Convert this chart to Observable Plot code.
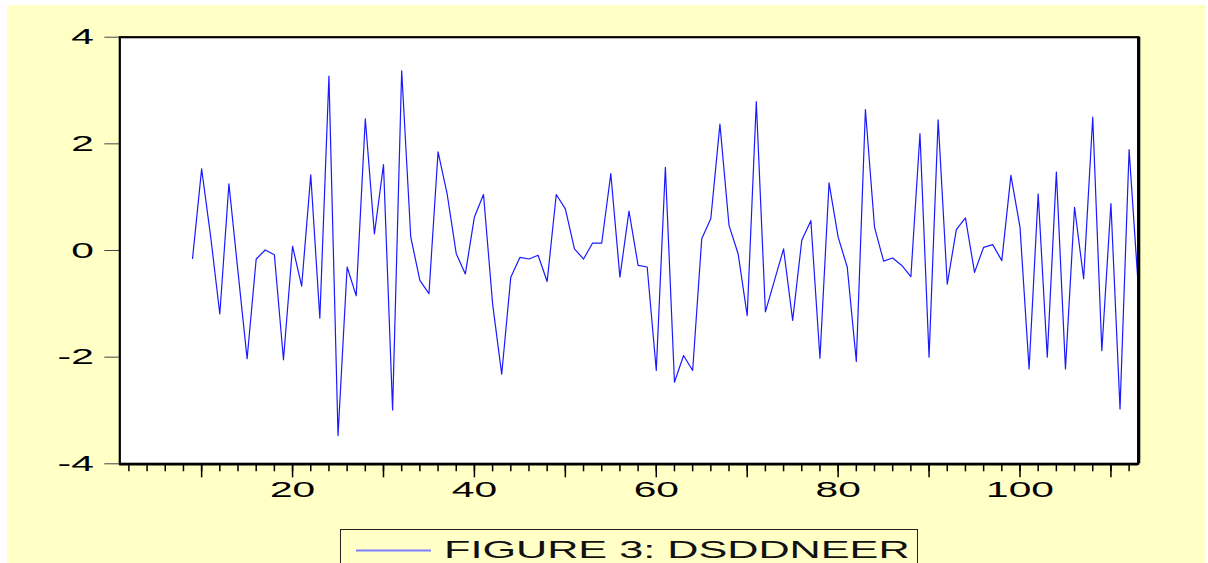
<!DOCTYPE html>
<html><head><meta charset="utf-8">
<script src="https://cdn.jsdelivr.net/npm/d3@7"></script>
<script src="https://cdn.jsdelivr.net/npm/@observablehq/plot@0.6"></script>
<style>
html,body{margin:0;padding:0;background:#fff;overflow:hidden;}
#wrap{position:absolute;left:7px;top:5px;width:1199px;height:558px;background:#FFFFC6;overflow:hidden;font-family:"Liberation Sans",Arial,sans-serif;}
#chart svg{display:block;}
#legend{margin-left:332.6px;margin-top:9px;width:578px;height:42px;border:1px solid #222;box-sizing:border-box;}
#legend svg{display:block;}
</style></head><body><div id="wrap"><div id="chart"></div><div id="legend"></div></div>
<script>
const seriesName = "FIGURE 3: DSDDNEER";
const observations = d3.range(9, 114);
const values = [
  -0.15, 1.53, 0.25, -1.19, 1.25, -0.40, -2.03, -0.16, 0.01, -0.08,
  -2.05, 0.08, -0.67, 1.42, -1.27, 3.27, -3.47, -0.31, -0.85, 2.47,
  0.31, 1.61, -2.99, 3.37, 0.25, -0.56, -0.81, 1.85, 1.06, -0.06,
  -0.44, 0.63, 1.05, -1.00, -2.32, -0.50, -0.13, -0.16, -0.09, -0.58,
  1.05, 0.78, 0.03, -0.16, 0.14, 0.14, 1.44, -0.50, 0.74, -0.28,
  -0.31, -2.25, 1.56, -2.47, -1.97, -2.25, 0.22, 0.60, 2.37, 0.47,
  -0.06, -1.22, 2.79, -1.15, -0.56, 0.03, -1.31, 0.19, 0.56, -2.02,
  1.27, 0.25, -0.31, -2.08, 2.64, 0.44, -0.20, -0.14, -0.28, -0.49,
  2.19, -2.00, 2.45, -0.63, 0.39, 0.61, -0.41, 0.06, 0.11, -0.19,
  1.41, 0.44, -2.22, 1.06, -2.00, 1.47, -2.22, 0.81, -0.53, 2.50,
  -1.88, 0.88, -2.97, 1.89, -0.66
];
const yTicks = [-4, -2, 0, 2, 4];
const xLabelTicks = [20, 40, 60, 80, 100];
const xMajorTicks = [10, 20, 30, 40, 50, 60, 70, 80, 90, 100, 110];
const xMinorTicks = d3.range(2, 113, 2);
const xDomain = [1, 113];
const yDomain = [-4, 4];

const data = observations.map((o, i) => ({obs: o, value: values[i]}));

const svg = Plot.plot({
  width: 1199,
  height: 515,
  marginLeft: 112.3,
  marginRight: 68.3,
  marginTop: 31.7,
  marginBottom: 56.7,
  style: {background: "transparent", color: "black", fontFamily: "'Liberation Sans', Arial, sans-serif"},
  x: {domain: xDomain},
  y: {domain: yDomain},
  marks: [
    Plot.frame({fill: "white", stroke: null}),
    Plot.axisY({ticks: yTicks, tickSize: 15, tickPadding: 11, fontSize: 22, tickFormat: d => String(d), stroke: "#444", label: null}),
    Plot.axisX({ticks: xMinorTicks, tickSize: 8, tickFormat: null, text: null, strokeWidth: 1.5, label: null}),
    Plot.axisX({ticks: xMajorTicks, tickSize: 14, text: null, strokeWidth: 1.5, label: null}),
    Plot.axisX({ticks: xLabelTicks, tickSize: 0, tickPadding: 18, fontSize: 22, tickFormat: d => String(d), label: null}),
    Plot.line(data, {x: "obs", y: "value", stroke: "#1a1aff", strokeWidth: 1.2}),
    Plot.frame({stroke: "black", strokeWidth: 2.2}),
    Plot.ruleX([xDomain[1]], {stroke: "black", strokeWidth: 3, dx: 0.6}),
    Plot.ruleY([yDomain[0]], {stroke: "black", strokeWidth: 2.6, dy: 0.4})
  ]
});

svg.querySelectorAll("text").forEach(t => {
  const tr = t.getAttribute("transform") || "";
  t.setAttribute("transform", tr + " scale(1.85,1)");
});
document.getElementById("chart").appendChild(svg);

// legend
const lg = d3.select("#legend").append("svg").attr("width", 576).attr("height", 40);
lg.append("line").attr("x1", 15).attr("x2", 90).attr("y1", 20.5).attr("y2", 20.5)
  .attr("stroke", "#7f7fff").attr("stroke-width", 2);
lg.append("text").attr("transform", "translate(103,27.5) scale(1.8,1)")
  .attr("font-size", 24).attr("font-family", "'Liberation Sans', Arial, sans-serif")
  .attr("fill", "#111").text(seriesName);
</script></body></html>
